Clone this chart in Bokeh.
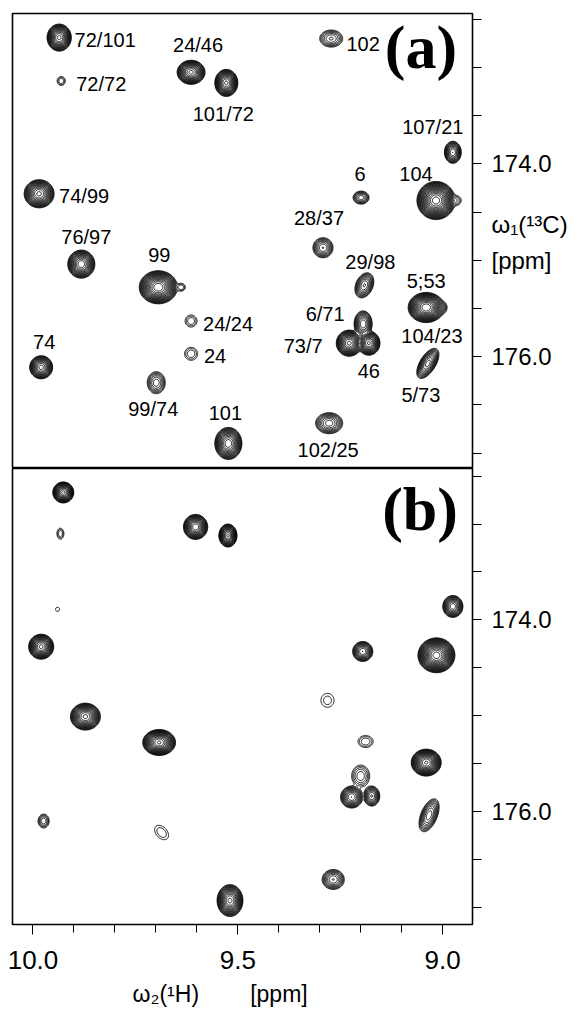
import numpy as np
from bokeh.plotting import figure
from bokeh.layouts import column
from bokeh.models import (Range1d, FixedTicker, PrintfTickFormatter, Label,
                          LabelSet, ColumnDataSource)
from bokeh.core.properties import value
from bokeh.embed import file_html
from bokeh.resources import INLINE

# ---------------- data ----------------
x_ticks = [10.0, 9.5, 9.0]
x_minor = [10.0, 9.9, 9.8, 9.7, 9.6, 9.5, 9.4, 9.3, 9.2, 9.1, 9.0]
y_ticks = [174.0, 176.0]
y_minor = [172.5, 173.0, 173.5, 174.0, 174.5, 175.0, 175.5, 176.0, 176.5, 177.0]
y_title_pos = [174.63, 175.0]
y_title_text = ["\u03c9\u2081(\u00b9\u00b3C)", "[ppm]"]
x_title = "\u03c9\u2082(\u00b9H)" + "\u00a0" * 8 + "[ppm]" + "\u00a0" * 7

# panel (a) peaks: 1H shift, 13C shift, relative height, outer-contour widths (ppm), H/C correlation
a_h = [9.936, 9.931, 9.614, 9.528, 9.272, 8.975, 9.016, 8.967, 9.199, 9.985,
       9.292, 9.882, 9.694, 9.638, 9.191, 9.040, 9.004, 9.614, 9.194, 9.228,
       9.180, 9.036, 9.614, 9.980, 9.699, 9.523, 9.277]
a_c = [172.69, 173.14, 173.05, 173.16, 172.70, 173.88, 174.38, 174.38, 174.35, 174.31,
       174.87, 175.04, 175.28, 175.28, 175.26, 175.49, 175.49, 175.63, 175.66, 175.86,
       175.86, 176.07, 175.97, 176.11, 176.27, 176.90, 176.69]
a_amp = [300, 3, 300, 300, 10, 60, 1500, 3, 12, 300,
         20, 250, 800, 3, 30, 800, 5, 3, 40, 300,
         200, 50, 3, 150, 12, 250, 25]
a_wh = [0.059, 0.020, 0.068, 0.056, 0.056, 0.041, 0.093, 0.025, 0.039, 0.073,
        0.049, 0.066, 0.093, 0.020, 0.046, 0.088, 0.029, 0.029, 0.044, 0.063,
        0.054, 0.054, 0.032, 0.056, 0.044, 0.066, 0.066]
a_wc = [0.28, 0.093, 0.249, 0.28, 0.177, 0.228, 0.395, 0.10, 0.135, 0.291,
        0.208, 0.291, 0.343, 0.08, 0.26, 0.312, 0.125, 0.125, 0.27, 0.27,
        0.249, 0.312, 0.135, 0.239, 0.228, 0.332, 0.218]
a_rho = [0, 0, 0, 0, 0, 0, 0, 0, 0, 0,
         0, 0, 0, 0, 0.3, 0, 0, 0, 0, 0,
         0, 0.6, 0, 0, 0, 0, 0]
a_names = ["72/101", "72/72", "24/46", "101/72", "102", "107/21", "104", "", "6", "74/99",
           "28/37", "76/97", "99", "", "29/98", "5;53", "104/23", "24/24", "6/71", "73/7",
           "46", "5/73", "24", "74", "99/74", "101", "102/25"]

# panel (b) peaks
b_h = [9.926, 9.933, 9.603, 9.524, 9.940, 8.975, 9.980, 9.195, 9.015, 9.281,
       9.872, 9.692, 9.188, 9.040, 9.200, 9.222, 9.173, 9.033, 9.974, 9.686,
       9.267, 9.519]
b_c = [172.67, 173.10, 173.03, 173.12, 173.89, 173.86, 174.28, 174.33, 174.37, 174.84,
       175.01, 175.28, 175.27, 175.49, 175.63, 175.85, 175.84, 176.04, 176.10, 176.22,
       176.71, 176.93]
b_amp = [300, 3, 250, 200, 1.3, 80, 300, 60, 1500, 1.8,
         300, 600, 3, 600, 6, 60, 30, 25, 6, 2,
         20, 300]
b_wh = [0.051, 0.017, 0.059, 0.044, 0.010, 0.049, 0.061, 0.049, 0.090, 0.032,
        0.073, 0.080, 0.037, 0.073, 0.044, 0.054, 0.039, 0.049, 0.027, 0.034,
        0.054, 0.063]
b_wc = [0.218, 0.114, 0.26, 0.239, 0.042, 0.228, 0.26, 0.208, 0.363, 0.145,
        0.28, 0.27, 0.125, 0.28, 0.228, 0.228, 0.208, 0.343, 0.145, 0.15,
        0.208, 0.332]
b_rho = [0, 0, 0, 0, 0, 0, 0, 0, 0, 0,
         0, 0, 0, 0, 0, 0, 0, 0.5, 0, -0.4,
         0, 0]

# ---------------- layout / style ----------------
a_label_off = [(46, 2), (40, 3), (7, -27), (-3, 31), (32, 5), (-20, -25), (-20, -27), (0, 0), (-1, -24), (45, 2),
               (-4, -30), (5, -27), (1, -32), (0, 0), (6, -23), (0, -27), (-9, 28), (37, 3), (-38, -10), (-46, 3),
               (0, 28), (-7, 32), (24, 2), (3, -25), (-3, 26), (-3, -30), (-1, 27)]

X_RANGE = (10.05, 8.927)
YA_RANGE = (177.16, 172.44)
YB_RANGE = (177.18, 172.42)
LEVEL0 = 1.0
STEP = 1.45
levels = [LEVEL0 * STEP ** k for k in range(0, 22)]

xs = np.linspace(min(X_RANGE), max(X_RANGE), 700)


def field(h, c, amp, wh, wc, rho, ys):
    X, Y = np.meshgrid(xs, ys)
    Z = np.zeros_like(X)
    for i in range(len(h)):
        s = np.sqrt(2 * np.log(amp[i] / LEVEL0))
        sx = wh[i] / 2 / s
        sy = wc[i] / 2 / s
        u = (X - h[i]) / sx
        v = (Y - c[i]) / sy
        r = rho[i]
        Z += amp[i] * np.exp(-(u * u - 2 * r * u * v + v * v) / (2 * (1 - r * r)))
    return Z


SANS = "Liberation Sans"
SERIF = "Liberation Serif"
FRAME_W = 460


def make_fig(frame_h, top, bottom, yr, with_x, right_title):
    p = figure(frame_width=FRAME_W, frame_height=frame_h,
               x_range=Range1d(*X_RANGE), y_range=Range1d(*yr),
               x_axis_location="below" if with_x else None,
               y_axis_location="right",
               output_backend="svg", toolbar_location=None,
               min_border_left=12, min_border_right=105,
               min_border_top=top, min_border_bottom=bottom)
    p.grid.visible = False
    p.outline_line_color = "black"
    p.outline_line_width = 1.6
    p.background_fill_color = "white"
    p.border_fill_color = "white"
    ya = p.yaxis[0]
    ticks = list(y_ticks) + (list(y_title_pos) if right_title else [])
    ya.ticker = FixedTicker(ticks=ticks, minor_ticks=y_minor)
    ya.formatter = PrintfTickFormatter(format="%.1f")
    if right_title:
        ya.major_label_overrides = {t: s for t, s in zip(y_title_pos, y_title_text)}
    ya.major_tick_out = 0
    ya.major_tick_in = 0
    ya.minor_tick_out = 9
    ya.minor_tick_in = 0
    ya.axis_line_color = "black"
    ya.minor_tick_line_color = "black"
    ya.major_label_text_font = SANS
    ya.major_label_text_font_size = "24px"
    ya.major_label_text_color = "black"
    ya.major_label_standoff = 10
    if with_x:
        xa = p.xaxis[0]
        xa.ticker = FixedTicker(ticks=x_ticks, minor_ticks=x_minor)
        xa.formatter = PrintfTickFormatter(format="%.1f")
        xa.major_tick_out = 10
        xa.major_tick_in = 0
        xa.minor_tick_out = 8
        xa.minor_tick_in = 0
        xa.axis_line_color = "black"
        xa.major_tick_line_color = "black"
        xa.minor_tick_line_color = "black"
        xa.major_label_text_font = SANS
        xa.major_label_text_font_size = "26px"
        xa.major_label_text_color = "black"
        xa.major_label_standoff = 16
        xa.axis_label = x_title
        xa.axis_label_text_font = SANS
        xa.axis_label_text_font_style = "normal"
        xa.axis_label_text_font_size = "23px"
        xa.axis_label_text_color = "black"
        xa.axis_label_standoff = 9
    return p


# ---------------- panel (a) ----------------
pa = make_fig(455, 13, 0, YA_RANGE, False, True)
ys_a = np.linspace(min(YA_RANGE), max(YA_RANGE), 700)
Za = field(a_h, a_c, a_amp, a_wh, a_wc, a_rho, ys_a)
pa.contour(xs, ys_a, Za, levels, line_color="black", line_width=0.9)

lab_idx = [i for i, n in enumerate(a_names) if n]
src_a = ColumnDataSource(dict(
    x=[a_h[i] for i in lab_idx], y=[a_c[i] for i in lab_idx],
    text=[a_names[i] for i in lab_idx],
    dx=[a_label_off[i][0] for i in lab_idx],
    dy=[-a_label_off[i][1] for i in lab_idx]))
pa.add_layout(LabelSet(x="x", y="y", text="text", x_offset="dx", y_offset="dy",
                       source=src_a, text_align="center", text_baseline="middle",
                       text_font=value(SANS), text_font_size=value("20px"),
                       text_color="black"))
pa.add_layout(Label(x=9.053, y=172.79, text="(a)", text_font=SERIF,
                    text_font_style="bold", text_font_size="62px",
                    text_align="center", text_baseline="middle", text_color="black"))

# ---------------- panel (b) ----------------
pb = make_fig(456, 0, 88, YB_RANGE, True, False)
ys_b = np.linspace(min(YB_RANGE), max(YB_RANGE), 700)
Zb = field(b_h, b_c, b_amp, b_wh, b_wc, b_rho, ys_b)
pb.contour(xs, ys_b, Zb, levels, line_color="black", line_width=0.9)
pb.add_layout(Label(x=9.055, y=172.84, text="(b)", text_font=SERIF,
                    text_font_style="bold", text_font_size="62px",
                    text_align="center", text_baseline="middle", text_color="black"))

layout = column(pa, pb, spacing=0)
open("out.html", "w").write(file_html(layout, INLINE))
